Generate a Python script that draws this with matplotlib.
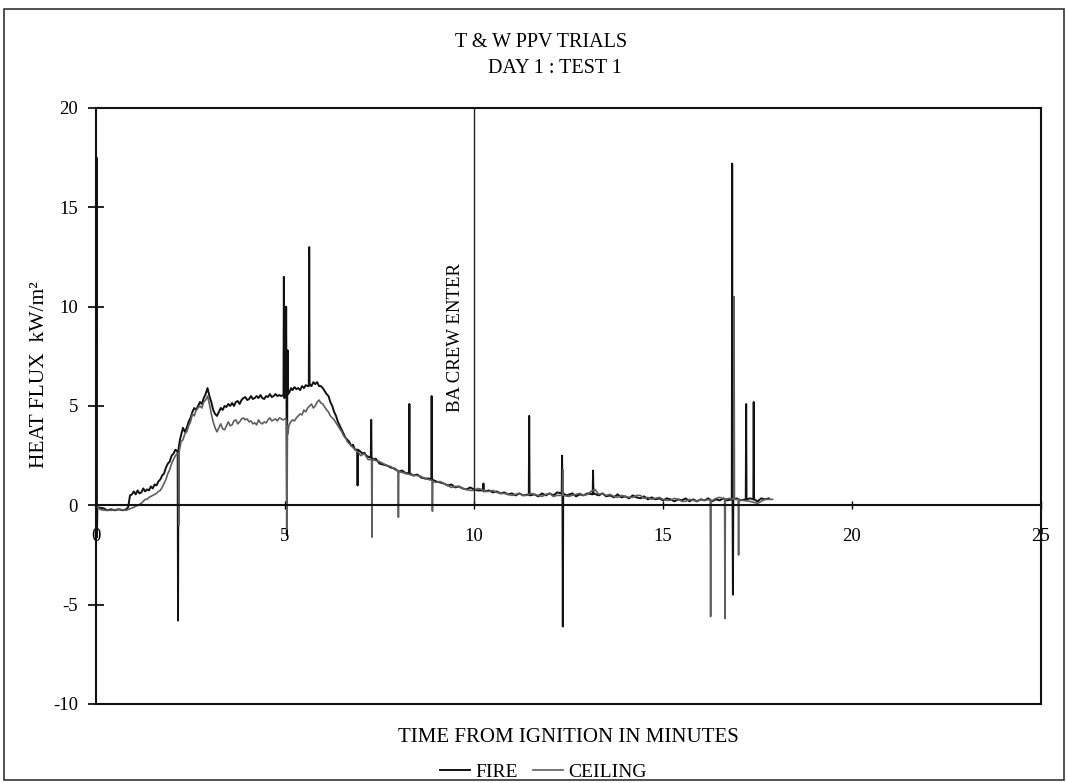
import matplotlib.pyplot as plt
from matplotlib.patches import Rectangle

### データ (時間[分], 熱流束[kW/m2])
fire_pts = [
    (0.0, 0.0), (0.015, 17.5), (0.025, -1.6), (0.035, -0.1), (0.2, -0.15), (0.3, -0.25), (0.4, -0.2),
    (0.5, -0.25), (0.6, -0.2), (0.7, -0.25), (0.8, -0.2), (0.85, -0.1), (0.9, 0.5), (0.95, 0.55),
    (1.0, 0.7), (1.05, 0.55), (1.1, 0.75), (1.15, 0.6), (1.2, 0.65), (1.25, 0.85), (1.3, 0.7),
    (1.35, 0.8), (1.4, 0.75), (1.45, 0.95), (1.5, 0.85), (1.55, 1.05), (1.6, 1.0), (1.65, 1.2),
    (1.7, 1.3), (1.75, 1.5), (1.8, 1.6), (1.85, 1.9), (1.9, 2.1), (1.95, 2.2), (2.0, 2.5), (2.05, 2.6),
    (2.1, 2.8), (2.16, 2.7), (2.17, -5.8), (2.18, 2.8), (2.22, 3.3), (2.26, 3.6), (2.3, 3.9), (2.35, 3.7),
    (2.4, 3.9), (2.45, 4.2), (2.5, 4.4), (2.55, 4.7), (2.6, 4.9), (2.65, 4.8), (2.7, 5.0), (2.75, 5.2),
    (2.8, 5.1), (2.85, 5.4), (2.9, 5.6), (2.95, 5.9), (3.0, 5.5), (3.05, 5.2), (3.1, 4.8), (3.15, 4.6),
    (3.2, 4.5), (3.25, 4.7), (3.3, 4.9), (3.35, 4.8), (3.4, 5.0), (3.45, 4.95), (3.5, 5.1), (3.55, 5.0),
    (3.6, 5.15), (3.65, 5.0), (3.7, 5.2), (3.75, 5.25), (3.8, 5.1), (3.85, 5.3), (3.9, 5.4), (3.95, 5.45),
    (4.0, 5.3), (4.05, 5.35), (4.1, 5.5), (4.15, 5.35), (4.2, 5.4), (4.25, 5.5), (4.3, 5.4), (4.35, 5.55),
    (4.4, 5.4), (4.45, 5.35), (4.5, 5.5), (4.55, 5.45), (4.6, 5.6), (4.65, 5.45), (4.7, 5.5), (4.75, 5.6),
    (4.8, 5.5), (4.85, 5.55), (4.9, 5.5), (4.96, 5.55), (4.97, 11.5), (4.98, 5.4), (5.02, 5.5),
    (5.03, 10.0), (5.04, 5.5), (5.05, -1.5), (5.06, 5.5), (5.07, 7.8), (5.08, 5.6), (5.12, 5.7),
    (5.16, 5.9), (5.2, 5.8), (5.25, 5.95), (5.3, 5.85), (5.35, 5.9), (5.4, 5.8), (5.45, 6.0), (5.5, 5.9),
    (5.55, 6.05), (5.6, 6.0), (5.63, 6.0), (5.64, 13.0), (5.65, 6.1), (5.7, 6.0), (5.75, 6.2), (5.8, 6.1),
    (5.85, 6.2), (5.9, 6.0), (5.95, 6.0), (6.0, 5.9), (6.05, 5.75), (6.1, 5.6), (6.15, 5.5), (6.2, 5.2),
    (6.25, 5.0), (6.3, 4.7), (6.35, 4.5), (6.4, 4.2), (6.45, 4.0), (6.5, 3.8), (6.55, 3.6), (6.6, 3.4),
    (6.65, 3.3), (6.7, 3.2), (6.75, 3.0), (6.8, 3.05), (6.85, 2.8), (6.91, 2.8), (6.92, 1.0), (6.93, 2.8),
    (7.0, 2.7), (7.05, 2.6), (7.1, 2.65), (7.15, 2.5), (7.2, 2.45), (7.27, 2.4), (7.28, 4.3), (7.29, 2.4),
    (7.35, 2.3), (7.4, 2.35), (7.5, 2.1), (7.6, 2.05), (7.7, 2.0), (7.8, 1.9), (7.9, 1.85), (8.0, 1.7),
    (8.1, 1.75), (8.2, 1.6), (8.28, 1.65), (8.29, 5.1), (8.3, 1.6), (8.4, 1.5), (8.5, 1.55), (8.6, 1.4),
    (8.7, 1.35), (8.8, 1.35), (8.87, 1.3), (8.88, 5.5), (8.89, 1.3), (9.0, 1.2), (9.1, 1.15), (9.2, 1.1),
    (9.3, 1.0), (9.4, 1.05), (9.5, 0.9), (9.6, 0.95), (9.7, 0.85), (9.8, 0.8), (9.9, 0.9), (10.0, 0.8),
    (10.1, 0.75), (10.24, 0.75), (10.25, 1.1), (10.26, 0.7), (10.4, 0.75), (10.5, 0.65), (10.6, 0.7),
    (10.7, 0.6), (10.8, 0.65), (10.9, 0.55), (11.0, 0.6), (11.1, 0.5), (11.2, 0.6), (11.3, 0.5),
    (11.45, 0.55), (11.46, 4.5), (11.47, 0.5), (11.6, 0.55), (11.7, 0.45), (11.8, 0.6), (11.9, 0.5),
    (12.0, 0.6), (12.1, 0.5), (12.2, 0.65), (12.32, 0.6), (12.33, 2.5), (12.34, 0.6), (12.35, -6.1),
    (12.36, 0.6), (12.45, 0.5), (12.6, 0.6), (12.7, 0.45), (12.8, 0.55), (12.9, 0.5), (13.0, 0.6),
    (13.14, 0.55), (13.15, 1.75), (13.16, 0.6), (13.3, 0.5), (13.4, 0.6), (13.5, 0.45), (13.6, 0.5),
    (13.7, 0.4), (13.8, 0.55), (13.9, 0.4), (14.0, 0.45), (14.1, 0.35), (14.2, 0.5), (14.3, 0.4),
    (14.4, 0.35), (14.5, 0.45), (14.6, 0.3), (14.7, 0.4), (14.8, 0.3), (14.9, 0.35), (15.0, 0.25),
    (15.1, 0.35), (15.2, 0.3), (15.3, 0.2), (15.4, 0.3), (15.5, 0.25), (15.6, 0.35), (15.7, 0.2),
    (15.8, 0.3), (15.9, 0.2), (16.0, 0.3), (16.1, 0.25), (16.2, 0.35), (16.3, 0.2), (16.4, 0.3),
    (16.5, 0.25), (16.6, 0.35), (16.7, 0.25), (16.82, 0.3), (16.83, 17.2), (16.84, 0.3), (16.85, -4.5),
    (16.86, 0.3), (16.95, 0.35), (17.05, 0.25), (17.19, 0.3), (17.2, 5.1), (17.21, 0.3), (17.3, 0.35),
    (17.39, 0.3), (17.4, 5.2), (17.41, 0.3), (17.5, 0.2), (17.6, 0.35), (17.7, 0.3), (17.8, 0.35),
]

ceiling_pts = [
    (0.0, 0.0), (0.1, -0.2), (0.2, -0.25), (0.4, -0.25), (0.6, -0.2), (0.8, -0.25), (1.0, -0.1),
    (1.05, -0.05), (1.1, 0.0), (1.15, 0.05), (1.2, 0.1), (1.25, 0.2), (1.3, 0.3), (1.35, 0.3), (1.4, 0.4),
    (1.45, 0.45), (1.5, 0.5), (1.55, 0.55), (1.6, 0.6), (1.65, 0.7), (1.7, 0.75), (1.75, 0.9), (1.8, 1.1),
    (1.85, 1.3), (1.9, 1.6), (1.95, 1.8), (2.0, 2.1), (2.05, 2.3), (2.1, 2.5), (2.15, 2.6), (2.18, 2.6),
    (2.19, -1.0), (2.2, 2.7), (2.25, 3.2), (2.3, 3.3), (2.35, 3.6), (2.4, 3.7), (2.45, 4.0), (2.5, 4.2),
    (2.55, 4.6), (2.6, 4.5), (2.65, 4.8), (2.7, 4.9), (2.75, 5.0), (2.8, 4.9), (2.85, 5.2), (2.9, 5.3),
    (2.95, 5.5), (3.0, 5.1), (3.05, 4.6), (3.1, 4.2), (3.15, 3.9), (3.2, 3.7), (3.25, 3.9), (3.3, 4.1),
    (3.35, 3.85), (3.4, 3.8), (3.45, 4.0), (3.5, 4.2), (3.55, 4.0), (3.6, 4.05), (3.65, 4.25), (3.7, 4.3),
    (3.75, 4.1), (3.8, 4.2), (3.85, 4.35), (3.9, 4.4), (3.95, 4.3), (4.0, 4.35), (4.05, 4.2), (4.1, 4.25),
    (4.15, 4.1), (4.2, 4.15), (4.25, 4.05), (4.3, 4.3), (4.35, 4.15), (4.4, 4.1), (4.45, 4.2), (4.5, 4.15),
    (4.55, 4.3), (4.6, 4.4), (4.65, 4.25), (4.7, 4.3), (4.75, 4.35), (4.8, 4.25), (4.85, 4.4), (4.9, 4.35),
    (4.95, 4.3), (5.0, 4.35), (5.04, 4.3), (5.05, -1.2), (5.06, 4.0), (5.08, 3.6), (5.1, 4.0), (5.15, 4.2),
    (5.2, 4.3), (5.25, 4.25), (5.3, 4.4), (5.35, 4.5), (5.4, 4.6), (5.45, 4.55), (5.5, 4.8), (5.55, 4.7),
    (5.6, 4.9), (5.65, 5.0), (5.7, 5.1), (5.75, 4.9), (5.8, 5.0), (5.85, 5.2), (5.9, 5.3), (5.95, 5.15),
    (6.0, 5.1), (6.05, 4.95), (6.1, 4.8), (6.15, 4.7), (6.2, 4.5), (6.25, 4.4), (6.3, 4.3), (6.35, 4.15),
    (6.4, 4.0), (6.45, 3.85), (6.5, 3.7), (6.55, 3.5), (6.6, 3.4), (6.65, 3.2), (6.7, 3.1), (6.75, 3.0),
    (6.8, 2.9), (6.85, 2.85), (6.9, 2.7), (6.95, 2.65), (7.0, 2.5), (7.1, 2.6), (7.2, 2.3), (7.29, 2.3),
    (7.3, -1.6), (7.31, 2.3), (7.4, 2.25), (7.5, 2.2), (7.6, 2.1), (7.7, 2.0), (7.8, 1.95), (7.9, 1.8),
    (7.99, 1.75), (8.0, -0.6), (8.01, 1.7), (8.1, 1.65), (8.2, 1.6), (8.3, 1.55), (8.4, 1.5), (8.5, 1.5),
    (8.6, 1.45), (8.7, 1.35), (8.8, 1.3), (8.89, 1.25), (8.9, -0.3), (8.91, 1.2), (9.0, 1.15), (9.1, 1.2),
    (9.2, 1.1), (9.3, 1.0), (9.4, 0.9), (9.5, 0.95), (9.6, 0.95), (9.7, 0.85), (9.8, 0.8), (9.9, 0.75),
    (10.0, 0.75), (10.1, 0.85), (10.2, 0.8), (10.3, 0.7), (10.4, 0.7), (10.5, 0.75), (10.6, 0.65),
    (10.7, 0.6), (10.8, 0.6), (10.9, 0.55), (11.0, 0.5), (11.1, 0.55), (11.2, 0.6), (11.3, 0.5),
    (11.4, 0.5), (11.5, 0.6), (11.6, 0.55), (11.7, 0.5), (11.8, 0.45), (11.9, 0.55), (12.0, 0.6),
    (12.1, 0.45), (12.2, 0.5), (12.34, 0.5), (12.35, 1.8), (12.36, 0.5), (12.5, 0.45), (12.6, 0.5),
    (12.7, 0.55), (12.8, 0.6), (12.9, 0.5), (13.0, 0.55), (13.1, 0.7), (13.2, 0.8), (13.3, 0.55),
    (13.4, 0.6), (13.5, 0.5), (13.6, 0.55), (13.7, 0.45), (13.8, 0.4), (13.9, 0.5), (14.0, 0.45),
    (14.1, 0.4), (14.2, 0.4), (14.3, 0.5), (14.4, 0.5), (14.5, 0.35), (14.6, 0.4), (14.7, 0.3),
    (14.8, 0.35), (14.9, 0.4), (15.0, 0.3), (15.1, 0.25), (15.2, 0.25), (15.3, 0.35), (15.4, 0.3),
    (15.5, 0.2), (15.6, 0.2), (15.7, 0.3), (15.8, 0.25), (15.9, 0.2), (16.0, 0.3), (16.1, 0.25),
    (16.25, 0.3), (16.26, -5.6), (16.27, 0.2), (16.4, 0.35), (16.5, 0.4), (16.63, 0.3), (16.64, -5.7),
    (16.65, 0.3), (16.75, 0.35), (16.87, 0.3), (16.88, 10.5), (16.89, 0.3), (16.99, 0.3), (17.0, -2.5),
    (17.01, 0.3), (17.1, 0.25), (17.3, 0.2), (17.5, 0.1), (17.7, 0.3), (17.9, 0.3),
]

x_ticks = [0, 5, 10, 15, 20, 25]
y_ticks = [-10, -5, 0, 5, 10, 15, 20]
ba_enter_t = 10.0

fire_t, fire_v = zip(*fire_pts)
ceiling_t, ceiling_v = zip(*ceiling_pts)

plt.rcParams['font.family'] = ['Liberation Serif', 'DejaVu Serif']

fig = plt.figure(figsize=(10.68, 7.83), dpi=100)
ax = fig.add_axes([0.0899, 0.1009, 0.8848, 0.7612])

# 系列
ax.plot(fire_t, fire_v, color="#111111", lw=1.4, label="FIRE")
ax.plot(ceiling_t, ceiling_v, color="#5e5e5e", lw=1.2, label="CEILING")

# BA 進入時刻
ax.vlines(ba_enter_t, 0, 20, color="#222222", lw=1.0)
ax.text(ba_enter_t - 0.5, 4.7, "BA CREW ENTER", rotation=90, ha="center", va="bottom", fontsize=13.5)

ax.set_xlim(0, 25)
ax.set_ylim(-10, 20)
ax.set_xticks(x_ticks)
ax.set_yticks(y_ticks)
ax.set_yticklabels([str(v) for v in y_ticks])

# 横軸はゼロの位置で交差させる
ax.spines["bottom"].set_position(("data", 0))
for s in ax.spines.values():
    s.set_linewidth(1.5)
    s.set_color("#111111")
ax.axhline(-10, color="#111111", lw=1.5, clip_on=False)

ax.tick_params(axis="y", direction="inout", length=12, width=1.2, pad=7, labelsize=13.5)
ax.tick_params(axis="x", direction="inout", length=6, width=1.0, pad=13, labelsize=13.5)

# タイトル・軸ラベル
fig.text(0.507, 0.946, "T & W PPV TRIALS", ha="center", va="center", fontsize=14.5)
fig.text(0.52, 0.913, "DAY 1 : TEST 1", ha="center", va="center", fontsize=14.5)
fig.text(0.532, 0.058, "TIME FROM IGNITION IN MINUTES", ha="center", va="center", fontsize=15)
fig.text(0.037, 0.522, "HEAT FLUX  kW/m²", ha="center", va="center", rotation=90, fontsize=15.5)

# 凡例
fig.legend(loc="center", bbox_to_anchor=(0.509, 0.014), ncol=2, frameon=False, fontsize=14,
           handlelength=1.5, handletextpad=0.3, columnspacing=0.8, borderaxespad=0)

# 外枠
fig.patches.append(Rectangle((0.004, 0.004), 0.992, 0.985, transform=fig.transFigure,
                             fill=False, edgecolor="#333333", lw=1.2))

plt.savefig("out.png", dpi=100)
